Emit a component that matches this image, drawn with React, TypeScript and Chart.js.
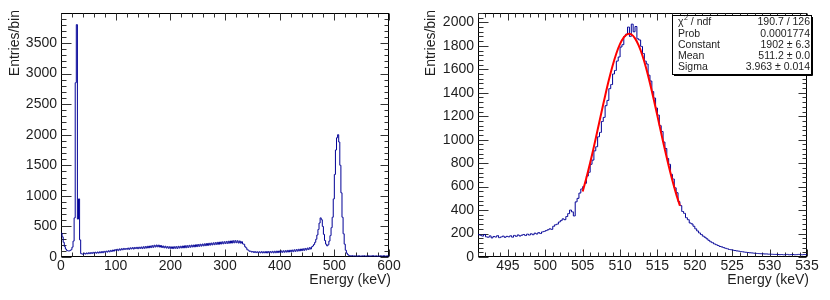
import React, { useEffect, useRef } from 'react';
import { Chart, registerables } from 'chart.js';
Chart.register(...registerables);

// ---------- Left panel: full spectrum, 2 keV bins from 0 keV ----------
const spectrumStart = 0;
const spectrumBinWidth = 2;
const spectrumCounts = [
  390, 330, 240, 170, 130, 108, 100, 98, 105, 120,
  160, 260, 640, 2850, 3800, 620, 950, 280, 55, 48,
  45, 62, 48, 66, 52, 70, 55, 72, 58, 76,
  60, 78, 62, 82, 64, 85, 68, 88, 70, 92,
  76, 96, 80, 102, 84, 108, 90, 114, 96, 120,
  108, 126, 104, 132, 112, 136, 118, 140, 124, 138,
  126, 146, 124, 150, 132, 154, 130, 156, 138, 158,
  136, 160, 140, 164, 138, 168, 142, 172, 146, 176,
  150, 180, 154, 186, 158, 192, 164, 196, 166, 194,
  162, 188, 156, 180, 150, 176, 146, 170, 142, 168,
  140, 166, 138, 168, 142, 170, 140, 174, 146, 176,
  148, 180, 150, 184, 152, 186, 156, 190, 160, 194,
  164, 196, 166, 200, 170, 204, 174, 208, 178, 212,
  182, 216, 186, 220, 190, 224, 194, 228, 198, 232,
  202, 236, 206, 240, 208, 244, 212, 248, 216, 250,
  220, 254, 222, 258, 226, 262, 228, 266, 232, 268,
  234, 266, 228, 262, 226, 250, 214, 208, 168, 150,
  118, 112, 92, 96, 80, 90, 74, 88, 72, 86,
  70, 86, 68, 88, 66, 86, 68, 88, 66, 90,
  68, 90, 70, 92, 68, 94, 70, 96, 72, 98,
  74, 100, 76, 102, 78, 104, 80, 108, 82, 110,
  86, 114, 88, 118, 92, 122, 96, 126, 100, 130,
  104, 134, 108, 140, 114, 146, 122, 154, 130, 166,
  180, 205, 240, 290, 360, 450, 555, 640, 610, 500,
  370, 270, 210, 182, 200, 260, 350, 480, 650, 950,
  1350, 1750, 1950, 2000, 1880, 1500, 1050, 650, 380, 210,
  110, 62, 38, 26, 20, 17, 22, 15, 18, 16,
  18, 14, 20, 16, 13, 19, 15, 21, 14, 17,
  15, 20, 13, 18, 16, 22, 14, 17, 19, 13,
  18, 15, 20, 14, 17, 21, 13, 16, 19, 15,
];

// ---------- Right panel: 511 keV peak, 0.25 keV bins from 491 keV ----------
const peakStart = 491;
const peakBinWidth = 0.25;
const peakCounts = [
  190, 185, 178, 192, 172, 168, 180, 163,
  175, 170, 182, 165, 171, 178, 168, 176,
  172, 181, 169, 184, 176, 188, 179, 186,
  192, 183, 195, 187, 198, 190, 203, 196,
  208, 200, 214, 218, 225, 232, 240, 236,
  262, 275, 280, 298, 310, 325, 318, 345,
  370, 400, 385, 350, 470, 500, 545, 580,
  600, 628, 690, 722, 790, 826, 905, 940,
  1025, 1062, 1155, 1190, 1290, 1335, 1435, 1470,
  1560, 1590, 1670, 1705, 1790, 1810, 1880, 1900,
  1960, 1880, 1985, 1920, 1965, 1860, 1850, 1795,
  1735, 1670, 1645, 1550, 1500, 1410, 1355, 1270,
  1210, 1120, 1070, 980, 925, 840, 790, 705,
  665, 590, 548, 472, 438, 388, 372, 335,
  318, 290, 282, 262, 240, 222, 205, 192,
  178, 168, 155, 142, 130, 122, 112, 105,
  98, 90, 86, 80, 74, 70, 64, 62,
  58, 55, 52, 50, 47, 45, 42, 40,
  38, 36, 35, 33, 31, 30, 29, 28,
  27, 26, 26, 24, 24, 23, 22, 22,
  21, 20, 21, 19, 20, 22, 19, 20,
  21, 19, 20, 22, 20, 19, 21, 20,
];

// Gaussian fit curve (read at 0.5 keV steps)
const fitEnergies = [
  505, 505.5, 506, 506.5, 507, 507.5, 508, 508.5, 509, 509.5,
  510, 510.5, 511, 511.5, 512, 512.5, 513, 513.5, 514, 514.5,
  515, 515.5, 516, 516.5, 517, 517.5, 518,
];
const fitValues = [
  559, 676, 804, 941, 1085, 1230, 1373, 1508, 1630, 1735,
  1817, 1873, 1900, 1897, 1864, 1802, 1716, 1607, 1482, 1345,
  1201, 1056, 913, 778, 652, 538, 437,
];

// Tick labels
const leftXTicks = [0, 100, 200, 300, 400, 500, 600];
const leftYTicks = [0, 500, 1000, 1500, 2000, 2500, 3000, 3500];
const rightXTicks = [495, 500, 505, 510, 515, 520, 525, 530, 535];
const rightYTicks = [0, 200, 400, 600, 800, 1000, 1200, 1400, 1600, 1800, 2000];

const statsLabels = ['χ2 / ndf', 'Prob', 'Constant', 'Mean', 'Sigma'];
const statsValues = ['190.7 / 126', '0.0001774', '1902 ± 6.3', '511.2 ± 0.0', '3.963 ± 0.014'];

const xTitle = 'Energy (keV)';
const yTitle = 'Entries/bin';

const FONT = '"Liberation Sans", Arial, Helvetica, sans-serif';
const TEXT = '#1e1e1e';
const HIST = 'rgb(0,0,150)';

// Histogram outline: points at bin centres, stepped 'middle' puts the steps on the bin edges
function stepPoints(start: number, width: number, counts: number[]) {
  const pts = [{ x: start, y: counts[0] }];
  counts.forEach((c, i) => pts.push({ x: start + (i + 0.5) * width, y: c }));
  pts.push({ x: start + counts.length * width, y: counts[counts.length - 1] });
  return pts;
}

type FrameCfg = {
  xMin: number; xMax: number; xMinor: number; xMajor: number;
  yMin: number; yMax: number; yMinor: number; yMajor: number;
  yTitleX: number; stats?: boolean;
};

function makeFramePlugin(cfg: FrameCfg) {
  return {
    id: 'rootFrame',
    beforeDatasetsDraw(chart: any) {
      const { ctx, chartArea: a, scales } = chart;
      const xs = scales.x, ys = scales.y;
      ctx.save();
      ctx.strokeStyle = '#000';
      ctx.lineWidth = 1;
      const L = Math.round(a.left) + 0.5, R = Math.round(a.right) - 0.5;
      const T = Math.round(a.top) + 0.5, B = Math.round(a.bottom) - 0.5;
      ctx.strokeRect(L, T, R - L, B - T);
      ctx.strokeStyle = '#333';
      const nx = Math.round((cfg.xMax - cfg.xMin) / cfg.xMinor);
      const x0 = Math.ceil(cfg.xMin / cfg.xMinor - 1e-9) * cfg.xMinor;
      ctx.beginPath();
      for (let i = 0; i <= nx + 1; i++) {
        const v = x0 + i * cfg.xMinor;
        if (v > cfg.xMax + 1e-9) break;
        const major = Math.abs(v / cfg.xMajor - Math.round(v / cfg.xMajor)) < 1e-6;
        const px = Math.round(xs.getPixelForValue(v)) + 0.5;
        const len = major ? 7 : 4;
        ctx.moveTo(px, B); ctx.lineTo(px, B - len);
        ctx.moveTo(px, T); ctx.lineTo(px, T + len);
      }
      const ny = Math.round((cfg.yMax - cfg.yMin) / cfg.yMinor);
      for (let i = 0; i <= ny + 1; i++) {
        const v = cfg.yMin + i * cfg.yMinor;
        if (v > cfg.yMax + 1e-9) break;
        const major = Math.abs(v / cfg.yMajor - Math.round(v / cfg.yMajor)) < 1e-6;
        const py = Math.round(ys.getPixelForValue(v)) + 0.5;
        const ll = major ? 10 : 5;
        const lr = major ? 8 : 4;
        ctx.moveTo(L, py); ctx.lineTo(L + ll, py);
        ctx.moveTo(R, py); ctx.lineTo(R - lr, py);
      }
      ctx.stroke();
      ctx.restore();
    },
    afterDraw(chart: any) {
      const { ctx, chartArea: a } = chart;
      ctx.save();
      ctx.fillStyle = TEXT;
      ctx.font = `14px ${FONT}`;
      ctx.textAlign = 'right';
      ctx.textBaseline = 'alphabetic';
      ctx.fillText(xTitle, a.right + 2, 284);
      ctx.translate(cfg.yTitleX, 10);
      ctx.rotate(-Math.PI / 2);
      ctx.textAlign = 'right';
      ctx.textBaseline = 'middle';
      ctx.fillText(yTitle, 0, 0);
      ctx.restore();

      if (cfg.stats) {
        ctx.save();
        const bx = 257, by = 15, bw = 139, bh = 59;
        ctx.fillStyle = '#fff';
        ctx.fillRect(bx, by, bw, bh);
        ctx.strokeStyle = '#000';
        ctx.lineWidth = 1;
        ctx.strokeRect(bx + 0.5, by + 0.5, bw, bh);
        ctx.beginPath();
        ctx.moveTo(bx + bw + 1.5, by + 2); ctx.lineTo(bx + bw + 1.5, by + bh + 1.5);
        ctx.lineTo(bx + 2, by + bh + 1.5);
        ctx.stroke();
        ctx.fillStyle = TEXT;
        ctx.textBaseline = 'middle';
        const rowH = 11.25;
        statsLabels.forEach((lab, i) => {
          const yc = by + 7.5 + i * rowH;
          ctx.font = `10.5px ${FONT}`;
          ctx.textAlign = 'left';
          if (lab.startsWith('χ2')) {
            const lx = bx + 6;
            ctx.fillText('χ', lx, yc);
            const w1 = ctx.measureText('χ').width;
            ctx.font = `7px ${FONT}`;
            ctx.fillText('2', lx + w1 + 0.5, yc - 4);
            const w2 = ctx.measureText('2').width;
            ctx.font = `10.5px ${FONT}`;
            ctx.fillText(lab.slice(2), lx + w1 + w2 + 0.5, yc);
          } else {
            ctx.fillText(lab, bx + 6, yc);
          }
          ctx.textAlign = 'right';
          ctx.fillText(statsValues[i], bx + bw - 1, yc);
        });
        ctx.restore();
      }
    },
  };
}

function axisOpts(min: number, max: number, tickValues: number[], fitSize: (s: any) => void, pad: number) {
  return {
    type: 'linear' as const,
    min, max,
    afterFit: fitSize,
    afterBuildTicks: (scale: any) => { scale.ticks = tickValues.map((v) => ({ value: v })); },
    grid: { display: false, drawTicks: false },
    border: { display: false },
    ticks: {
      padding: pad,
      maxRotation: 0,
      autoSkip: false,
      color: TEXT,
      font: { family: FONT, size: 14 },
      callback: (v: any) => String(v),
    },
  };
}

export default function App() {
  const leftRef = useRef<HTMLCanvasElement>(null);
  const rightRef = useRef<HTMLCanvasElement>(null);

  useEffect(() => {
    const leftCfg: FrameCfg = {
      xMin: 0, xMax: 600, xMinor: 20, xMajor: 100,
      yMin: 0, yMax: 3990, yMinor: 100, yMajor: 500, yTitleX: 15,
    };
    const c1 = new Chart(leftRef.current as HTMLCanvasElement, {
      type: 'line',
      data: {
        datasets: [{
          data: stepPoints(spectrumStart, spectrumBinWidth, spectrumCounts),
          borderColor: HIST, borderWidth: 1, pointRadius: 0, stepped: 'middle', fill: false,
        }],
      },
      options: {
        animation: false, responsive: false, maintainAspectRatio: false,
        layout: { padding: { left: 0, top: 13, right: 26, bottom: 0 } },
        plugins: { legend: { display: false }, tooltip: { enabled: false } },
        scales: {
          x: axisOpts(0, 600, leftXTicks, (s: any) => { s.height = 43; }, 1),
          y: axisOpts(0, 3990, leftYTicks, (s: any) => { s.width = 61; }, 4),
        },
      },
      plugins: [makeFramePlugin(leftCfg)],
    } as any);

    const rightCfg: FrameCfg = {
      xMin: 491, xMax: 535, xMinor: 1, xMajor: 5,
      yMin: 0, yMax: 2080, yMinor: 40, yMajor: 200, yTitleX: 16.5, stats: true,
    };
    const c2 = new Chart(rightRef.current as HTMLCanvasElement, {
      type: 'line',
      data: {
        datasets: [
          {
            data: fitEnergies.map((e, i) => ({ x: e, y: fitValues[i] })),
            borderColor: '#ff0000', borderWidth: 2, pointRadius: 0, tension: 0.3, fill: false,
          },
          {
            data: stepPoints(peakStart, peakBinWidth, peakCounts),
            borderColor: HIST, borderWidth: 1, pointRadius: 0, stepped: 'middle', fill: false,
          },
        ],
      },
      options: {
        animation: false, responsive: false, maintainAspectRatio: false,
        layout: { padding: { left: 0, top: 13, right: 23, bottom: 0 } },
        plugins: { legend: { display: false }, tooltip: { enabled: false } },
        scales: {
          x: axisOpts(491, 535, rightXTicks, (s: any) => { s.height = 43; }, 1),
          y: axisOpts(0, 2080, rightYTicks, (s: any) => { s.width = 63; }, 4),
        },
      },
      plugins: [makeFramePlugin(rightCfg)],
    } as any);

    return () => { c1.destroy(); c2.destroy(); };
  }, []);

  return (
    <div style={{ position: 'fixed', left: 0, top: 0, width: 830, height: 300, background: '#fff' }}>
      <canvas ref={leftRef} width={415} height={300}
        style={{ position: 'absolute', left: 0, top: 0, width: 415, height: 300 }} />
      <canvas ref={rightRef} width={415} height={300}
        style={{ position: 'absolute', left: 415, top: 0, width: 415, height: 300 }} />
    </div>
  );
}
